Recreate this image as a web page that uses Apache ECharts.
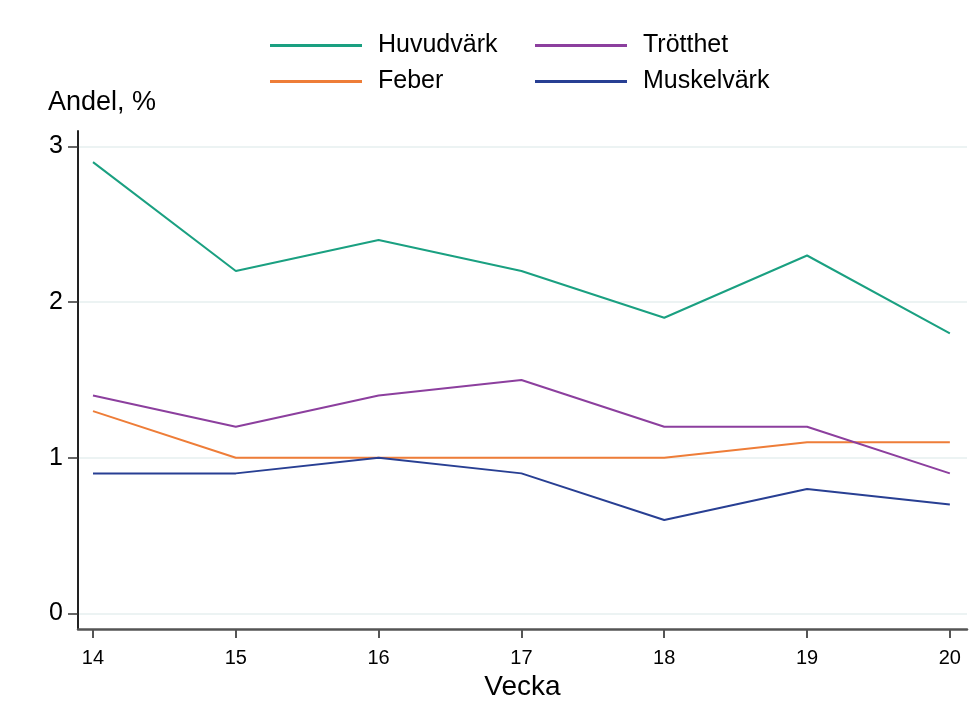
<!DOCTYPE html>
<html>
<head>
<meta charset="utf-8">
<script src="https://cdn.jsdelivr.net/npm/echarts@6/dist/echarts.min.js"></script>
<style>
  html, body { margin: 0; padding: 0; background: #fff; }
  #chart { width: 976px; height: 717px; }
</style>
</head>
<body>
<div id="chart"></div>
<script>
  const weeks = [14, 15, 16, 17, 18, 19, 20];
  const huvudvark = [2.9, 2.2, 2.4, 2.2, 1.9, 2.3, 1.8];
  const feber = [1.3, 1.0, 1.0, 1.0, 1.0, 1.1, 1.1];
  const trotthet = [1.4, 1.2, 1.4, 1.5, 1.2, 1.2, 0.9];
  const muskelvark = [0.9, 0.9, 1.0, 0.9, 0.6, 0.8, 0.7];
  const yTicks = [0, 1, 2, 3];

  const font = '"Liberation Sans", Arial, sans-serif';

  function line(name, values, color) {
    return {
      name: name,
      type: 'line',
      data: weeks.map((w, i) => [w, values[i]]),
      showSymbol: false,
      lineStyle: { color: color, width: 2 },
      itemStyle: { color: color }
    };
  }

  const legendBase = {
    orient: 'vertical',
    top: 28,
    itemWidth: 92,
    itemHeight: 3,
    itemGap: 11,
    icon: 'rect',
    textStyle: { fontFamily: font, fontSize: 25, color: '#000', padding: [0, 0, 0, 11] }
  };

  const chart = echarts.init(document.getElementById('chart'));
  chart.setOption({
    backgroundColor: '#fff',
    animation: false,
    title: {
      text: 'Andel, %',
      left: 43,
      top: 84,
      textStyle: { fontFamily: font, fontSize: 27, fontWeight: 'normal', color: '#000' }
    },
    legend: [
      Object.assign({}, legendBase, { left: 265, data: ['Huvudvärk', 'Feber'] }),
      Object.assign({}, legendBase, { left: 530, data: ['Trötthet', 'Muskelvärk'] })
    ],
    grid: { left: 78, right: 9, top: 131, bottom: 88, containLabel: false },
    xAxis: {
      type: 'value',
      min: 13.895,
      max: 20.12,
      name: 'Vecka',
      nameLocation: 'middle',
      nameGap: 42,
      nameTextStyle: { fontFamily: font, fontSize: 28, color: '#000' },
      axisLine: { show: true, onZero: false, lineStyle: { color: '#555', width: 2.5 } },
      axisTick: { show: true, length: 9, customValues: weeks, lineStyle: { color: '#555', width: 2 } },
      axisLabel: { customValues: weeks, margin: 19, fontFamily: font, fontSize: 20, color: '#000' },
      splitLine: { show: false }
    },
    yAxis: {
      type: 'value',
      min: -0.1,
      max: 3.1,
      axisLine: { show: true, lineStyle: { color: '#222', width: 2 } },
      axisTick: { show: true, length: 10, customValues: yTicks, lineStyle: { color: '#333', width: 1.5 } },
      axisLabel: { customValues: yTicks, margin: 15, fontFamily: font, fontSize: 25, color: '#000' },
      splitLine: { show: true, lineStyle: { color: '#e6efef', width: 1.5 } }
    },
    series: [
      line('Huvudvärk', huvudvark, '#1aa081'),
      line('Feber', feber, '#ee7d38'),
      line('Trötthet', trotthet, '#8c3f9e'),
      line('Muskelvärk', muskelvark, '#283f93')
    ]
  });
</script>
</body>
</html>
